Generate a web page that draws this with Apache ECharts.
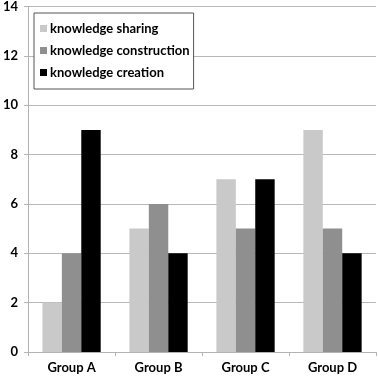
<!DOCTYPE html>
<html><head><meta charset="utf-8">
<script src="https://cdn.jsdelivr.net/npm/echarts@6/dist/echarts.min.js"></script>
<style>html,body{margin:0;padding:0;background:#fff}#c{width:378px;height:377px}</style>
</head><body><div id="c"></div>
<script>
var categories = ['Group A', 'Group B', 'Group C', 'Group D'];
var sharing = [2, 5, 7, 9];
var construction = [4, 6, 5, 5];
var creation = [9, 4, 7, 4];
var seriesNames = ['knowledge sharing', 'knowledge construction', 'knowledge creation'];

var font = 'Lato';
var chart = echarts.init(document.getElementById('c'));
chart.setOption({
  animation: false,
  textStyle: {fontFamily: font},
  grid: {left: 25, right: 2, top: 4, bottom: 25, containLabel: false},
  legend: {
    orient: 'vertical', left: 34, top: 13,
    backgroundColor: '#fff', borderColor: '#555', borderWidth: 1,
    padding: [9, 4, 10, 6], itemGap: 9, itemWidth: 7, itemHeight: 7, icon: 'rect',
    textStyle: {fontFamily: font, fontSize: 13, fontWeight: 'bold', color: '#000', padding: [0, 0, 0, -2]},
    data: seriesNames
  },
  xAxis: {
    type: 'category', data: categories,
    axisLine: {lineStyle: {color: '#b3b3b3'}},
    axisTick: {show: true, length: 4, lineStyle: {color: '#b3b3b3'}},
    axisLabel: {fontFamily: font, fontSize: 13, fontWeight: 'bold', color: '#000', margin: 9}
  },
  yAxis: {
    type: 'value', min: 0, max: 14, interval: 2,
    axisLine: {show: true, lineStyle: {color: '#b3b3b3'}},
    axisTick: {show: true, length: 4, lineStyle: {color: '#b3b3b3'}},
    splitLine: {lineStyle: {color: '#b8b8b8'}},
    axisLabel: {fontFamily: font, fontSize: 13, fontWeight: 'bold', color: '#000', margin: 10}
  },
  series: [
    {name: seriesNames[0], type: 'bar', data: sharing, barGap: '0%', barCategoryGap: '33%', itemStyle: {color: '#c9c9c9'}},
    {name: seriesNames[1], type: 'bar', data: construction, barGap: '0%', barCategoryGap: '33%', itemStyle: {color: '#8f8f8f'}},
    {name: seriesNames[2], type: 'bar', data: creation, barGap: '0%', barCategoryGap: '33%', itemStyle: {color: '#000000'}}
  ]
});
</script></body></html>
